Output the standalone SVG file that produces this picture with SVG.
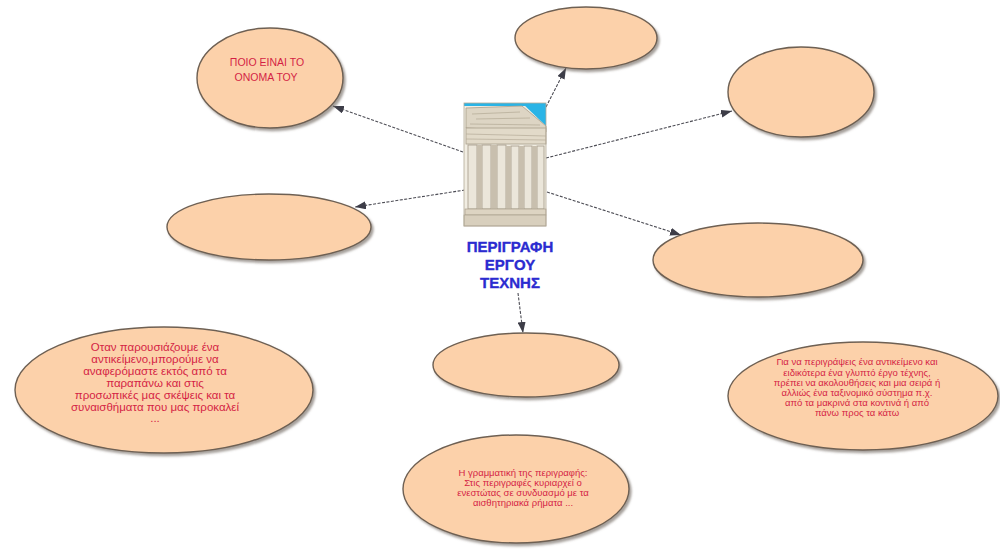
<svg xmlns="http://www.w3.org/2000/svg" width="1000" height="553" viewBox="0 0 1000 553">
<style>
.node ellipse{fill:#fcd1aa;stroke:#6e6053;stroke-width:1.4;filter:url(#sh)}
.t{font-family:"Liberation Sans",Arial,sans-serif;fill:#d41f45;text-anchor:middle}
.conn line{stroke:#4d4d55;stroke-width:1.1;stroke-dasharray:3,1.5;marker-end:url(#ah)}
.title{font-family:"Liberation Sans",Arial,sans-serif;font-weight:700;font-size:15px;fill:#2b2bd0;stroke:#2b2bd0;stroke-width:0.35;text-anchor:middle}
</style>
<defs>
<filter id="sh" x="-10%" y="-10%" width="125%" height="130%">
<feDropShadow dx="2" dy="2.5" stdDeviation="1.2" flood-color="#6b6158" flood-opacity="0.6"/>
</filter>
<marker id="ah" markerWidth="11" markerHeight="8" refX="11" refY="4" orient="auto" markerUnits="userSpaceOnUse">
<path d="M0,0 L11,4 L0,8 z" fill="#3d3d48"/>
</marker>
</defs>
<rect width="1000" height="553" fill="#ffffff"/>

<g id="connectors" class="conn">
<line x1="463" y1="152" x2="333" y2="106"/>
<line x1="546" y1="107" x2="566" y2="68"/>
<line x1="546" y1="158" x2="732" y2="111"/>
<line x1="465" y1="190" x2="355" y2="207"/>
<line x1="547" y1="192" x2="681" y2="235"/>
<line x1="518" y1="293" x2="523" y2="333"/>
</g>

<g id="node-name" class="node">
<ellipse cx="270" cy="78" rx="73" ry="50"/>
<text class="t" font-size="10.5" x="267" y="66">ΠΟΙΟ ΕΙΝΑΙ ΤΟ</text>
<text class="t" font-size="10.5" x="266" y="81">ΟΝΟΜΑ ΤΟΥ</text>
</g>

<g id="node-top" class="node">
<ellipse cx="586" cy="38" rx="71" ry="31"/>
</g>

<g id="node-topright" class="node">
<ellipse cx="801" cy="92" rx="73" ry="45"/>
</g>

<g id="node-left" class="node">
<ellipse cx="269" cy="227" rx="102" ry="33"/>
</g>

<g id="node-right" class="node">
<ellipse cx="758" cy="260" rx="105" ry="37"/>
</g>

<g id="node-below" class="node">
<ellipse cx="526" cy="365" rx="93" ry="32"/>
</g>

<g id="node-bottomleft" class="node">
<ellipse cx="164" cy="390" rx="149" ry="63"/>
<g class="t" font-size="11.5">
<text x="155" y="351">Οταν παρουσιάζουμε ένα</text>
<text x="155" y="363">αντικείμενο,μπορούμε να</text>
<text x="155" y="375">αναφερόμαστε εκτός από τα</text>
<text x="155" y="387">παραπάνω και στις</text>
<text x="155" y="399">προσωπικές μας σκέψεις και τα</text>
<text x="155" y="411">συναισθήματα που μας προκαλεί</text>
<text x="155" y="422">...</text>
</g>
</g>

<g id="node-bottomright" class="node">
<ellipse cx="863" cy="396" rx="135" ry="54"/>
<g class="t" font-size="9.5">
<text x="857" y="365">Για να περιγράψεις ένα αντικείμενο και</text>
<text x="857" y="376">ειδικότερα ένα γλυπτό έργο τέχνης,</text>
<text x="857" y="386">πρέπει να ακολουθήσεις και μια σειρά ή</text>
<text x="857" y="396">αλλιώς ένα ταξινομικό σύστημα π.χ.</text>
<text x="857" y="406">από τα μακρινά στα κοντινά ή από</text>
<text x="857" y="416">πάνω προς τα κάτω</text>
</g>
</g>

<g id="node-bottom" class="node">
<ellipse cx="516" cy="489" rx="113" ry="54"/>
<g class="t" font-size="9.5">
<text x="523" y="476">Η γραμματική της περιγραφής:</text>
<text x="523" y="486">Στις περιγραφές κυριαρχεί ο</text>
<text x="523" y="496">ενεστώτας σε συνδυασμό με τα</text>
<text x="523" y="506">αισθητηριακά ρήματα ...</text>
</g>
</g>

<g id="node-center">
<rect x="464" y="103" width="82" height="123" fill="#f1ede2"/>
<rect x="464" y="103" width="82" height="3" fill="#2ab4e6"/>
<polygon points="522,103 546,103 546,126" fill="#2ab4e6"/>
<polygon points="466,108 522,106 546,126 546,132 466,128" fill="#ddd5c4" stroke="#a89e8c" stroke-width="0.8"/>
<path d="M472,114 L520,112 M476,119 L530,118 M470,124 L540,125" stroke="#b8ae9a" stroke-width="0.8" fill="none"/>
<rect x="466" y="128" width="80" height="16" fill="#e2dac9" stroke="#a89e8c" stroke-width="0.8"/>
<path d="M466,134 L546,136 M466,139 L546,140" stroke="#b5ab98" stroke-width="0.7" fill="none"/>
<g fill="#ebe6da" stroke="#a49a88" stroke-width="0.8">
<rect x="468" y="145" width="9" height="64"/>
<rect x="482" y="145" width="9" height="64"/>
<rect x="497" y="145" width="9" height="64"/>
<rect x="511" y="146" width="8" height="63"/>
<rect x="524" y="146" width="8" height="63"/>
<rect x="537" y="146" width="7" height="63"/>
</g>
<g fill="#c8bfae">
<rect x="477" y="145" width="5" height="64"/>
<rect x="491" y="145" width="6" height="64"/>
<rect x="506" y="146" width="5" height="63"/>
<rect x="519" y="146" width="5" height="63"/>
<rect x="532" y="146" width="5" height="63"/>
</g>
<rect x="465" y="209" width="81" height="6" fill="#ddd4c2" stroke="#a89e8c" stroke-width="0.7"/>
<rect x="464" y="215" width="82" height="11" fill="#d8cfbd" stroke="#a89e8c" stroke-width="0.7"/>
<rect x="464" y="103" width="82" height="123" fill="none" stroke="#b3aa98" stroke-width="0.8"/>
<text class="title" x="510" y="252" font-weight="bold">ΠΕΡΙΓΡΑΦΗ</text>
<text class="title" x="510" y="270" font-weight="bold">ΕΡΓΟΥ</text>
<text class="title" x="510" y="288" font-weight="bold">ΤΕΧΝΗΣ</text>
</g>
</svg>
